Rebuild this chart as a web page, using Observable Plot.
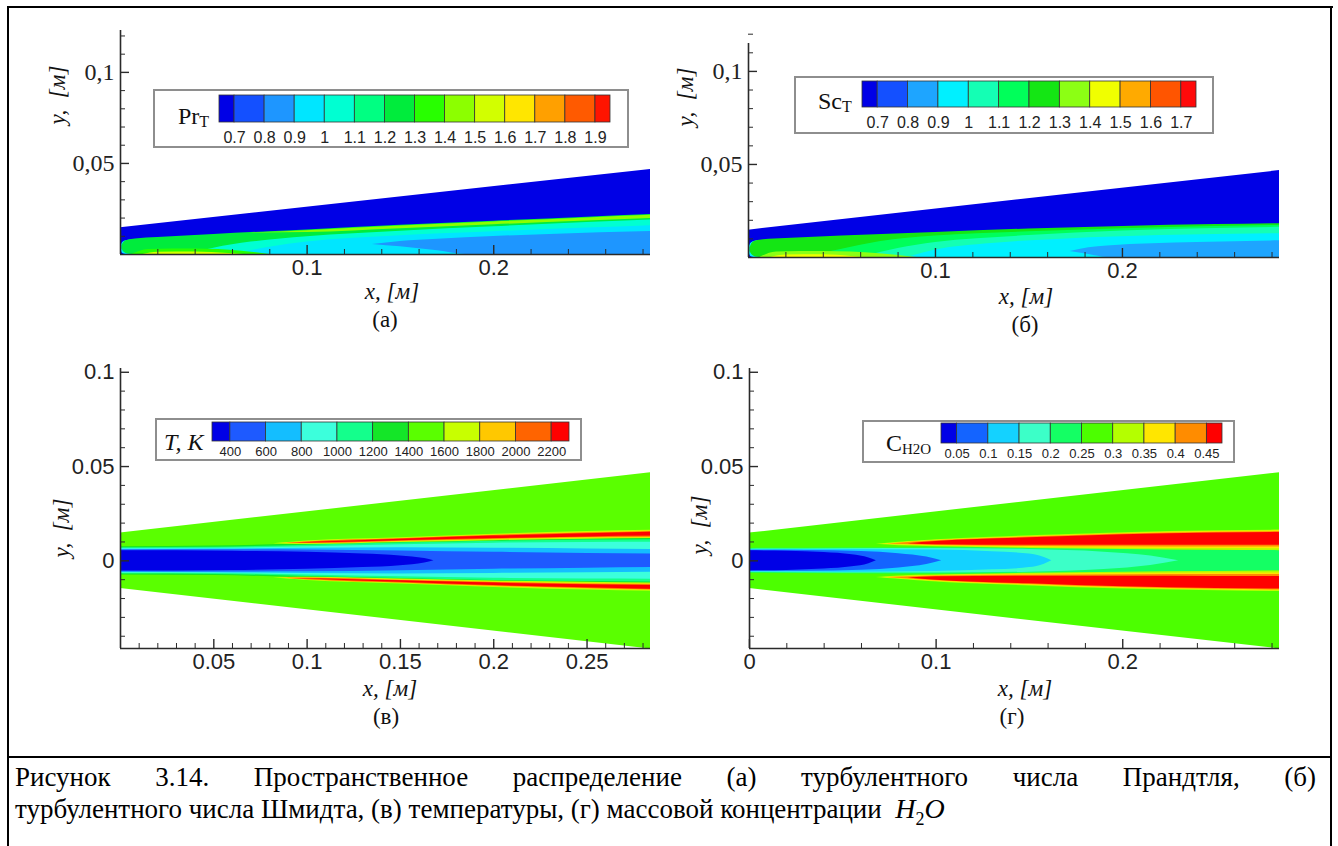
<!DOCTYPE html>
<html lang="ru">
<head>
<meta charset="utf-8">
<script src="https://cdn.jsdelivr.net/npm/d3@7"></script>
<script src="https://cdn.jsdelivr.net/npm/@observablehq/plot@0.6"></script>
<style>
  html, body { margin: 0; padding: 0; background: #fff; }
  #page { position: relative; width: 1338px; height: 846px; overflow: hidden; background: #fff;
          font-family: "Liberation Serif", "Times New Roman", "DejaVu Serif", serif; color: #111; }
  .rule { position: absolute; background: #000; }
  .legend-box { position: absolute; background: #fff; border: 2px solid #8e8e8e; box-sizing: border-box; }
  .caption { position: absolute; left: 15px; font-size: 27px; line-height: 31px; color: #000;
             font-family: "Liberation Serif", "Times New Roman", "DejaVu Serif", serif; }
</style>
</head>
<body>
<div id="page"></div>
<script>
// ---------- contour levels (legend tick labels) ----------
const prLevels  = [0.7, 0.8, 0.9, 1, 1.1, 1.2, 1.3, 1.4, 1.5, 1.6, 1.7, 1.8, 1.9];
const scLevels  = [0.7, 0.8, 0.9, 1, 1.1, 1.2, 1.3, 1.4, 1.5, 1.6, 1.7];
const tLevels   = [400, 600, 800, 1000, 1200, 1400, 1600, 1800, 2000, 2200];
const h2oLevels = [0.05, 0.1, 0.15, 0.2, 0.25, 0.3, 0.35, 0.4, 0.45];

// ---------- axis ticks ----------
const xMajorAB = [0.1, 0.2];
const xLabelsAB = ["0.1", "0.2"];
const xMinorAB = [0.02, 0.04, 0.06, 0.08, 0.12, 0.14, 0.16, 0.18, 0.22, 0.24, 0.26, 0.28];
const yMajorAB = [0.05, 0.1];
const yLabelsAB = ["0,05", "0,1"];
const yMinorAB = [0.01, 0.02, 0.03, 0.04, 0.06, 0.07, 0.08, 0.09, 0.11, 0.12];

const xMajorV = [0.05, 0.1, 0.15, 0.2, 0.25];
const xLabelsV = ["0.05", "0.1", "0.15", "0.2", "0.25"];
const xMinorV = [0.01, 0.02, 0.03, 0.04, 0.06, 0.07, 0.08, 0.09, 0.11, 0.12, 0.13, 0.14,
                 0.16, 0.17, 0.18, 0.19, 0.21, 0.22, 0.23, 0.24, 0.26, 0.27, 0.28];
const xMajorG = [0, 0.1, 0.2];
const xLabelsG = ["0", "0.1", "0.2"];
const xMinorG = [0.02, 0.04, 0.06, 0.08, 0.12, 0.14, 0.16, 0.18, 0.22, 0.24, 0.26, 0.28];
const yMajorVG = [0, 0.05, 0.1];
const yLabelsVG = ["0", "0.05", "0.1"];
const yMinorVG = [-0.04, -0.03, -0.02, -0.01, 0.01, 0.02, 0.03, 0.04, 0.06, 0.07, 0.08, 0.09];

// ---------- contour regions: rows of [x, y lower, y upper], upper half of the jet ----------
const jetEnvelope = [[0, 0, 0.0147], [0.284, 0, 0.0467]];

// (а) turbulent Prandtl number
const prNoseRim = [[0.0002, 0.0026, 0.0046], [0.0012, 0.0005, 0.0066], [0.003, 0, 0.0075], [0.006, 0, 0.008]];
const prMixing = [[0.0008, 0.003, 0.0048], [0.002, 0.0012, 0.0068], [0.004, 0.0003, 0.0078], [0.008, 0, 0.0085],
                  [0.02, 0, 0.0093], [0.05, 0, 0.011], [0.1, 0, 0.0135], [0.15, 0, 0.016], [0.2, 0, 0.0183],
                  [0.25, 0, 0.0205], [0.284, 0, 0.022]];
const prCoreAqua = [[0.035, 0, 0], [0.05, 0, 0.0035], [0.07, 0, 0.0068], [0.1, 0, 0.0098], [0.15, 0, 0.0128],
                    [0.2, 0, 0.0152], [0.25, 0, 0.0176], [0.284, 0, 0.019]];
const prCoreCyan = [[0.06, 0, 0], [0.08, 0, 0.004], [0.1, 0, 0.0068], [0.15, 0, 0.0103], [0.2, 0, 0.0125],
                    [0.25, 0, 0.0145], [0.284, 0, 0.0158]];
const prCoreBlue = [[0.135, 0.0055, 0.0055], [0.15, 0.0042, 0.0072], [0.17, 0.002, 0.0084], [0.185, 0, 0.0092],
                    [0.23, 0, 0.011], [0.284, 0, 0.0126]];
const prAxisGreen = [[0.006, 0, 0], [0.015, 0, 0.0028], [0.04, 0, 0.003], [0.065, 0, 0.0018], [0.08, 0, 0]];
const prAxisYellow = [[0.012, 0, 0], [0.02, 0, 0.0012], [0.04, 0, 0.0014], [0.058, 0, 0.0006], [0.066, 0, 0]];
const prEdgeStrip = [[0.07, 0.0118, 0.0118], [0.1, 0.0121, 0.0131], [0.15, 0.0142, 0.0156], [0.2, 0.0163, 0.0179],
                     [0.25, 0.0184, 0.0201], [0.284, 0.0197, 0.0215]];

// (б) turbulent Schmidt number
const scNoseRim = [[0.0002, 0.003, 0.005], [0.0012, 0.0006, 0.0075], [0.003, 0, 0.0086], [0.006, 0, 0.0092]];
const scMixing = [[0.0008, 0.0032, 0.0052], [0.002, 0.0013, 0.0076], [0.004, 0.0003, 0.0088], [0.008, 0, 0.0095],
                  [0.02, 0, 0.0102], [0.05, 0, 0.0115], [0.1, 0, 0.0135], [0.15, 0, 0.0153], [0.2, 0, 0.0167],
                  [0.25, 0, 0.0177], [0.284, 0, 0.0182]];
const scLayerGreen = [[0.03, 0, 0], [0.05, 0, 0.0045], [0.07, 0, 0.0085], [0.1, 0, 0.0115], [0.15, 0, 0.0138],
                      [0.2, 0, 0.0155], [0.25, 0, 0.0167], [0.284, 0, 0.0172]];
const scLayerAqua = [[0.06, 0, 0], [0.08, 0, 0.0048], [0.1, 0, 0.008], [0.15, 0, 0.0118], [0.2, 0, 0.0142],
                     [0.25, 0, 0.0156], [0.284, 0, 0.0162]];
const scLayerCyan = [[0.085, 0, 0], [0.1, 0, 0.004], [0.13, 0, 0.0075], [0.17, 0, 0.01], [0.22, 0, 0.0118],
                     [0.284, 0, 0.0128]];
const scLayerBlue = [[0.172, 0.0032, 0.0032], [0.182, 0.0016, 0.0052], [0.192, 0, 0.0062], [0.24, 0, 0.008],
                     [0.284, 0, 0.009]];
const scAxisGreen = [[0.006, 0, 0], [0.015, 0, 0.003], [0.04, 0, 0.0032], [0.07, 0, 0.002], [0.09, 0, 0]];
const scAxisYellow = [[0.012, 0, 0], [0.02, 0, 0.0013], [0.04, 0, 0.0015], [0.055, 0, 0.0006], [0.062, 0, 0]];

// (в) temperature
const tRimGreen = [[0, 0, 0.0075], [0.05, 0, 0.0078], [0.1, 0, 0.009], [0.15, 0, 0.0102], [0.2, 0, 0.0112],
                   [0.25, 0, 0.0118], [0.284, 0, 0.012]];
const tRimSpring = [[0, 0, 0.007], [0.05, 0, 0.0072], [0.1, 0, 0.0083], [0.15, 0, 0.0094], [0.2, 0, 0.0104],
                    [0.25, 0, 0.011], [0.284, 0, 0.0112]];
const tRimAqua = [[0, 0, 0.0066], [0.05, 0, 0.0067], [0.1, 0, 0.0075], [0.15, 0, 0.0085], [0.2, 0, 0.0093],
                  [0.25, 0, 0.0097], [0.284, 0, 0.0098]];
const tCoreLight = [[0, 0, 0.0062], [0.05, 0, 0.0063], [0.1, 0, 0.0067], [0.15, 0, 0.007], [0.2, 0, 0.0067],
                    [0.25, 0, 0.0063], [0.284, 0, 0.006]];
const tCoreBlue = [[0, 0, 0.0058], [0.05, 0, 0.0059], [0.1, 0, 0.0058], [0.15, 0, 0.0052], [0.2, 0, 0.0045],
                   [0.25, 0, 0.0039], [0.284, 0, 0.0036]];
const tCoreCold = [[0, 0, 0.0054], [0.03, 0, 0.0054], [0.06, 0, 0.0051], [0.1, 0, 0.0045], [0.13, 0, 0.0036],
                   [0.15, 0, 0.0026], [0.163, 0, 0.0012], [0.168, 0, 0]];
const tFlame1 = [[0.082, 0.0091, 0.0091], [0.09, 0.0088, 0.0097], [0.1, 0.0087, 0.0105], [0.15, 0.0097, 0.0123],
                 [0.2, 0.0107, 0.0141], [0.25, 0.0114, 0.0155], [0.284, 0.0118, 0.0162]];
const tFlame2 = [[0.086, 0.0092, 0.0092], [0.1, 0.009, 0.0102], [0.15, 0.0101, 0.0119], [0.2, 0.0112, 0.0137],
                 [0.25, 0.012, 0.015], [0.284, 0.0123, 0.0158]];
const tFlame3 = [[0.089, 0.0093, 0.0093], [0.1, 0.0092, 0.01], [0.15, 0.0104, 0.0117], [0.2, 0.0115, 0.0134],
                 [0.25, 0.0124, 0.0147], [0.284, 0.0127, 0.0154]];
const tFlame4 = [[0.095, 0.0095, 0.0095], [0.12, 0.0099, 0.0104], [0.15, 0.0106, 0.0114], [0.2, 0.0118, 0.0131],
                 [0.25, 0.0127, 0.0143], [0.284, 0.0131, 0.0151]];

// (г) H2O mass fraction
const hRimSpring = [[0, 0, 0.0066], [0.05, 0, 0.0068], [0.1, 0, 0.007], [0.15, 0, 0.0068], [0.2, 0, 0.0062],
                    [0.25, 0, 0.0056], [0.284, 0, 0.0054]];
const hCoreAqua = [[0, 0, 0.0062], [0.05, 0, 0.0064], [0.1, 0, 0.0065], [0.15, 0, 0.006], [0.19, 0, 0.0046],
                   [0.215, 0, 0.0025], [0.23, 0, 0]];
const hCoreLight = [[0, 0, 0.0059], [0.05, 0, 0.006], [0.1, 0, 0.0057], [0.13, 0, 0.0048], [0.15, 0, 0.0036],
                    [0.158, 0, 0.0018], [0.162, 0, 0]];
const hCoreBlue = [[0, 0, 0.0056], [0.03, 0, 0.0055], [0.06, 0, 0.005], [0.08, 0, 0.0038], [0.095, 0, 0.002],
                   [0.103, 0, 0]];
const hCoreLow = [[0, 0, 0.0053], [0.02, 0, 0.0051], [0.04, 0, 0.0044], [0.055, 0, 0.0032], [0.064, 0, 0.0015],
                  [0.068, 0, 0]];
const hFlame1 = [[0.068, 0.0088, 0.0088], [0.08, 0.008, 0.0098], [0.1, 0.0075, 0.0112], [0.15, 0.0066, 0.0133],
                 [0.2, 0.006, 0.0149], [0.25, 0.0056, 0.0159], [0.284, 0.0054, 0.0163]];
const hFlame2 = [[0.071, 0.0088, 0.0088], [0.1, 0.0078, 0.0109], [0.15, 0.0071, 0.0129], [0.2, 0.0067, 0.0145],
                 [0.25, 0.0065, 0.0155], [0.284, 0.0064, 0.0159]];
const hFlame3 = [[0.074, 0.0089, 0.0089], [0.1, 0.0081, 0.0106], [0.15, 0.0076, 0.0126], [0.2, 0.0074, 0.0142],
                 [0.25, 0.0073, 0.0151], [0.284, 0.0073, 0.0155]];
const hFlame4 = [[0.085, 0.0091, 0.0091], [0.1, 0.0085, 0.0103], [0.15, 0.0082, 0.0122], [0.2, 0.0082, 0.0138],
                 [0.25, 0.0083, 0.0147], [0.284, 0.0083, 0.015]];

// drawing order of the filled bands, each with the field value it carries
const prRegions = [[jetEnvelope, 0.65], [prNoseRim, 0.95], [prMixing, 1.25], [prCoreAqua, 1.05], [prCoreCyan, 0.95],
                   [prCoreBlue, 0.85], [prAxisGreen, 1.35], [prAxisYellow, 1.55], [prEdgeStrip, 1.45]];
const scRegions = [[jetEnvelope, 0.65], [scNoseRim, 0.95], [scMixing, 1.25], [scLayerGreen, 1.15], [scLayerAqua, 1.05],
                   [scLayerCyan, 0.95], [scLayerBlue, 0.85], [scAxisGreen, 1.35], [scAxisYellow, 1.45]];
const tRegions = [[jetEnvelope, 1500], [tRimGreen, 1300], [tRimSpring, 1100], [tRimAqua, 900], [tCoreLight, 700],
                  [tCoreBlue, 500], [tCoreCold, 300], [tFlame1, 1700], [tFlame2, 1900], [tFlame3, 2100], [tFlame4, 2300]];
const hRegions = [[jetEnvelope, 0.275], [hRimSpring, 0.225], [hCoreAqua, 0.175], [hCoreLight, 0.125],
                  [hCoreBlue, 0.075], [hCoreLow, 0.025], [hFlame1, 0.325], [hFlame2, 0.375], [hFlame3, 0.425],
                  [hFlame4, 0.475]];

// ---------- palettes (Tecplot-like rainbow bands) ----------
const prPalette = ["#0000e6", "#1450ff", "#1e96ff", "#00e6ff", "#00ffd2", "#00ff82", "#00ec3c",
                   "#28ff00", "#8cff00", "#d2ff00", "#ffe600", "#ffa000", "#ff5a00", "#ff1400"];
const scPalette = ["#0000e6", "#1450ff", "#1ea5ff", "#00f0ff", "#14ffb4", "#00ff5a", "#14e614",
                   "#8cff14", "#f0ff00", "#ffaa00", "#ff5500", "#ff0a0a"];
const tPalette = ["#0000e6", "#1e5aff", "#14beff", "#3cffdc", "#14ff8c", "#14e628", "#5aff00",
                  "#c8ff00", "#ffc800", "#ff6400", "#ff0000"];
const hPalette = ["#0000e6", "#1464ff", "#14d2ff", "#3cffc8", "#14ff64", "#4cff00", "#b4ff00",
                  "#ffe600", "#ff8c00", "#ff0000"];

const SANS = "'Liberation Sans', Arial, sans-serif";
const SERIF = "'Liberation Serif', 'Times New Roman', 'DejaVu Serif', serif";
const INK = "#2a2a2a";
const page = document.getElementById("page");

// rows for an area mark; symmetric jets are mirrored about the axis
function bandRows(pts, v, mirror) {
  const onAxis = pts.every(p => p[1] === 0);
  const rows = [];
  for (const [x, a, b] of pts) {
    if (!mirror) rows.push({x, y1: a, y2: b, v, side: "u"});
    else if (onAxis) rows.push({x, y1: -b, y2: b, v, side: "u"});
    else {
      rows.push({x, y1: a, y2: b, v, side: "u"});
      rows.push({x, y1: -b, y2: -a, v, side: "l"});
    }
  }
  return rows;
}

function place(node, left, top) {
  node.style.position = "absolute";
  node.style.left = left + "px";
  node.style.top = top + "px";
  page.append(node);
}

function drawPanel(s) {
  const plotW = s.width - s.mL - s.mR;
  const plotH = s.height - s.mT - s.mB;
  const xFmt = new Map(s.xMajor.map((t, i) => [t, s.xLabels[i]]));
  const yFmt = new Map(s.yMajor.map((t, i) => [t, s.yLabels[i]]));
  const marks = s.regions.map(([pts, v]) =>
    Plot.areaY(bandRows(pts, v, s.mirror), {x: "x", y1: "y1", y2: "y2", z: "side", fill: "v", curve: "monotone-x"}));
  marks.push(
    Plot.tickX(s.xMinor, {x: d => d, insetTop: plotH - 5, stroke: INK, strokeWidth: 1}),
    Plot.tickX(s.xMajor, {x: d => d, insetTop: plotH - 9, stroke: INK, strokeWidth: 1.4}),
    Plot.tickY(s.yMinor, {y: d => d, insetRight: plotW - 5, stroke: INK, strokeWidth: 1}),
    Plot.tickY(s.yMajor, {y: d => d, insetRight: plotW - 9, stroke: INK, strokeWidth: 1.4}),
    Plot.ruleX([s.xDomain[0]], {stroke: INK, strokeWidth: 1.6}),
    Plot.ruleY([s.yDomain[0]], {stroke: INK, strokeWidth: 1.6}),
    Plot.axisX(s.xMajor, {tickSize: 0, tickPadding: 5, label: null, tickFormat: d => xFmt.get(d),
                          fontSize: 22, fontFamily: SANS, fill: "#222"}),
    Plot.axisY(s.yMajor, {tickSize: 0, tickPadding: 6, label: null, tickFormat: d => yFmt.get(d),
                          fontSize: s.yFontSize, fontFamily: s.yFont, fill: "#222"})
  );
  const svg = Plot.plot({
    width: s.width, height: s.height,
    marginLeft: s.mL, marginRight: s.mR, marginTop: s.mT, marginBottom: s.mB,
    x: {domain: s.xDomain},
    y: {domain: s.yDomain},
    color: {type: "threshold", domain: s.levels, range: s.palette},
    style: {background: "transparent", overflow: "visible"},
    marks
  });
  place(svg, s.left, s.top);
}

function drawLegend(s) {
  const box = document.createElement("div");
  box.className = "legend-box";
  box.style.width = s.box[2] + "px";
  box.style.height = s.box[3] + "px";
  place(box, s.box[0], s.box[1]);

  const step = s.levels[1] - s.levels[0];
  const edges = [s.levels[0] - step / 2, ...s.levels, s.levels[s.levels.length - 1] + step / 2];
  const cells = edges.slice(0, -1).map((a, i) => ({a, b: edges[i + 1], v: (a + edges[i + 1]) / 2}));
  const side = 24, below = 26;
  const svg = Plot.plot({
    width: s.bar[2] + 2 * side, height: s.bar[3] + below,
    marginLeft: side, marginRight: side, marginTop: 0, marginBottom: below,
    x: {domain: [edges[0], edges[edges.length - 1]]},
    color: {type: "threshold", domain: s.levels, range: s.palette},
    style: {background: "transparent", overflow: "visible"},
    marks: [
      Plot.rect(cells, {x1: "a", x2: "b", fill: "v", stroke: "#333", strokeWidth: 0.8}),
      Plot.axisX(s.levels, {tickSize: 0, tickPadding: s.pad, label: null, tickFormat: d => String(d),
                            fontSize: s.fontSize, fontFamily: SANS, fill: "#222"})
    ]
  });
  place(svg, s.bar[0] - side, s.bar[1]);

  const t = document.createElement("div");
  t.innerHTML = s.title;
  t.style.cssText = `white-space:nowrap;transform:translateY(-50%);font-family:${SERIF};color:#111;` + s.titleCss;
  place(t, s.titleAt[0], s.titleAt[1]);
}

function text(html, x, y, css, rotate) {
  const d = document.createElement("div");
  d.innerHTML = html;
  d.style.cssText = `white-space:nowrap;transform:translate(-50%,-50%)${rotate ? " rotate(-90deg)" : ""};` +
    `font-family:${SERIF};color:#111;` + css;
  place(d, x, y);
}

// ---------- four panels ----------
const common = {xDomain: [0, 0.284]};
drawPanel({...common, left: 0, top: 0, width: 669, height: 300, mL: 120, mR: 19, mT: 30, mB: 46,
  yDomain: [0, 0.123], regions: prRegions, levels: prLevels, palette: prPalette, mirror: false,
  xMajor: xMajorAB, xLabels: xLabelsAB, xMinor: xMinorAB, yMajor: yMajorAB, yLabels: yLabelsAB, yMinor: yMinorAB,
  yFont: SERIF, yFontSize: 24});
drawPanel({...common, left: 669, top: 0, width: 669, height: 300, mL: 79, mR: 59, mT: 43, mB: 43,
  yDomain: [0, 0.115], regions: scRegions, levels: scLevels, palette: scPalette, mirror: false,
  xMajor: xMajorAB, xLabels: xLabelsAB, xMinor: xMinorAB, yMajor: yMajorAB, yLabels: yLabelsAB, yMinor: yMinorAB,
  yFont: SERIF, yFontSize: 24});
drawPanel({...common, left: 0, top: 340, width: 669, height: 340, mL: 120, mR: 19, mT: 28, mB: 32,
  yDomain: [-0.0465, 0.102], regions: tRegions, levels: tLevels, palette: tPalette, mirror: true,
  xMajor: xMajorV, xLabels: xLabelsV, xMinor: xMinorV, yMajor: yMajorVG, yLabels: yLabelsVG, yMinor: yMinorVG,
  yFont: SANS, yFontSize: 22});
drawPanel({...common, left: 669, top: 340, width: 669, height: 340, mL: 80, mR: 59, mT: 28, mB: 32,
  yDomain: [-0.0465, 0.102], regions: hRegions, levels: h2oLevels, palette: hPalette, mirror: true,
  xMajor: xMajorG, xLabels: xLabelsG, xMinor: xMinorG, yMajor: yMajorVG, yLabels: yLabelsVG, yMinor: yMinorVG,
  yFont: SANS, yFontSize: 22});

// ---------- colour legends ----------
drawLegend({levels: prLevels, palette: prPalette, box: [153, 89, 476, 59], bar: [219, 95, 391, 27],
  pad: 9, fontSize: 16, title: 'Pr<span style="font-size:16px;position:relative;top:3px">T</span>',
  titleAt: [178, 116], titleCss: "font-size:24px;"});
drawLegend({levels: scLevels, palette: scPalette, box: [794, 76, 420, 58], bar: [862, 81, 334, 26],
  pad: 9, fontSize: 16, title: 'Sc<span style="font-size:16px;position:relative;top:3px">T</span>',
  titleAt: [818, 101], titleCss: "font-size:24px;"});
drawLegend({levels: tLevels, palette: tPalette, box: [155, 418, 427, 43], bar: [212, 422, 357, 19],
  pad: 5, fontSize: 13, title: "T, K", titleAt: [164, 442], titleCss: "font-size:24px;font-style:italic;"});
drawLegend({levels: h2oLevels, palette: hPalette, box: [862, 420, 373, 43], bar: [941, 423, 281, 20],
  pad: 5, fontSize: 13, title: 'C<span style="font-size:15px;position:relative;top:3px">H2O</span>',
  titleAt: [886, 443], titleCss: "font-size:24px;"});

// ---------- axis titles and panel letters ----------
const axisTitle = "font-size:23px;font-style:italic;";
text("y, &nbsp;[м]", 58, 95, axisTitle, true);
text("y, &nbsp;[м]", 686, 97, axisTitle, true);
text("y, &nbsp;[м]", 62, 528, axisTitle, true);
text("y, &nbsp;[м]", 700, 525, axisTitle, true);
text("x, [м]", 392, 292, axisTitle);
text("x, [м]", 1026, 297, axisTitle);
text("x, [м]", 390, 689, axisTitle);
text("x, [м]", 1025, 689, axisTitle);
text("(а)", 385, 320, "font-size:23px;");
text("(б)", 1025, 325, "font-size:23px;");
text("(в)", 386, 717, "font-size:23px;");
text("(г)", 1012, 717, "font-size:23px;");

// ---------- frame of the figure table ----------
function rule(l, t, w, h) { const r = document.createElement("div"); r.className = "rule";
  r.style.width = w + "px"; r.style.height = h + "px"; place(r, l, t); }
rule(7, 6, 1326, 2);
rule(7, 6, 2, 840);
rule(1330, 6, 2, 840);
rule(7, 756, 1325, 2);

// ---------- caption ----------
const cap1 = document.createElement("div");
cap1.className = "caption";
cap1.style.cssText += "width:1301px;text-align:justify;text-align-last:justify;";
cap1.textContent = "Рисунок 3.14. Пространственное распределение (а) турбулентного числа Прандтля, (б)";
place(cap1, 15, 762);
const cap2 = document.createElement("div");
cap2.className = "caption";
cap2.innerHTML = 'турбулентного числа Шмидта, (в) температуры, (г) массовой концентрации &nbsp;' +
  '<span style="font-style:italic;font-size:28px">H<sub style="font-size:18px;font-style:normal">2</sub>O</span>';
place(cap2, 15, 793);
</script>
</body>
</html>
